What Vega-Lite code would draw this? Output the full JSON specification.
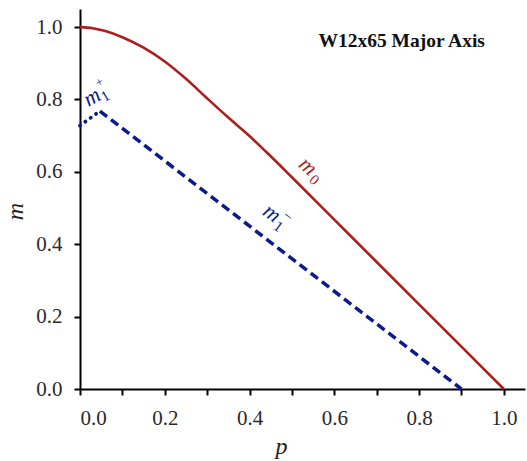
{
  "$schema": "https://vega.github.io/schema/vega-lite/v6.json",
  "width": 445,
  "height": 380,
  "autosize": {"type": "none"},
  "padding": {"left": 80, "top": 9, "right": 2, "bottom": 72},
  "background": "white",
  "config": {
    "view": {"stroke": null},
    "axis": {
      "grid": false,
      "domainColor": "black",
      "domainWidth": 2,
      "tickColor": "black",
      "tickWidth": 2,
      "tickSize": 6,
      "labelFont": "Liberation Serif",
      "labelFontSize": 21,
      "labelColor": "#2a2a2a",
      "titleFont": "Liberation Serif",
      "titleFontStyle": "italic",
      "titleFontWeight": "normal",
      "titleFontSize": 24,
      "titleColor": "#222222"
    }
  },
  "datasets": {
    "m0": [
      {"p": 0.0, "m": 1.0},
      {"p": 0.03, "m": 0.997},
      {"p": 0.06, "m": 0.989},
      {"p": 0.1, "m": 0.972},
      {"p": 0.15, "m": 0.943},
      {"p": 0.2, "m": 0.905},
      {"p": 0.25, "m": 0.857},
      {"p": 0.3, "m": 0.803},
      {"p": 0.35, "m": 0.75},
      {"p": 0.4, "m": 0.699},
      {"p": 0.45, "m": 0.643},
      {"p": 0.5, "m": 0.585},
      {"p": 0.6, "m": 0.468},
      {"p": 0.7, "m": 0.351},
      {"p": 0.8, "m": 0.234},
      {"p": 0.9, "m": 0.117},
      {"p": 1.0, "m": 0.0}
    ],
    "m1minus": [
      {"p": 0.047, "m": 0.768},
      {"p": 0.9, "m": 0.0}
    ],
    "m1plus": [
      {"p": 0.0, "m": 0.728},
      {"p": 0.047, "m": 0.768}
    ]
  },
  "layer": [
    {
      "data": {"name": "m0"},
      "mark": {"type": "line", "color": "#AE1E1E", "strokeWidth": 2.6, "interpolate": "monotone"},
      "encoding": {
        "x": {
          "field": "p", "type": "quantitative",
          "scale": {"domain": [0, 1.05], "nice": false, "zero": false},
          "axis": {
            "title": "p",
            "values": [0, 0.1, 0.2, 0.3, 0.4, 0.5, 0.6, 0.7, 0.8, 0.9, 1.0],
            "labelExpr": "round(datum.value*10)%2==0 ? format(datum.value,'.1f') : ''",
            "labelPadding": 12,
            "titleX": 201,
            "titleY": 64,
            "titleAlign": "center",
            "titleBaseline": "alphabetic"
          }
        },
        "y": {
          "field": "m", "type": "quantitative",
          "scale": {"domain": [0, 1.05], "nice": false, "zero": false},
          "axis": {
            "title": "m",
            "values": [0, 0.1, 0.2, 0.3, 0.4, 0.5, 0.6, 0.7, 0.8, 0.9, 1.0],
            "labelExpr": "round(datum.value*10)%2==0 ? format(datum.value,'.1f') : ''",
            "labelPadding": 12,
            "titleAngle": 270,
            "titleX": -58,
            "titleY": 202,
            "titleAlign": "center",
            "titleBaseline": "alphabetic"
          }
        },
        "order": {"field": "p", "type": "quantitative"}
      }
    },
    {
      "data": {"name": "m1minus"},
      "mark": {"type": "line", "color": "#0B1A8C", "strokeWidth": 3.5, "strokeDash": [9, 5]},
      "encoding": {
        "x": {"field": "p", "type": "quantitative"},
        "y": {"field": "m", "type": "quantitative"}
      }
    },
    {
      "data": {"name": "m1plus"},
      "mark": {"type": "line", "color": "#0B1A8C", "strokeWidth": 3.8, "strokeDash": [0.1, 6.5], "strokeCap": "round"},
      "encoding": {
        "x": {"field": "p", "type": "quantitative"},
        "y": {"field": "m", "type": "quantitative"}
      }
    },
    {
      "data": {"values": [{"label": "m0", "p": 0.538, "m": 0.616}]},
      "encoding": {
        "x": {"field": "p", "type": "quantitative"},
        "y": {"field": "m", "type": "quantitative"}
      },
      "layer": [
        {
          "mark": {"type": "text", "font": "Liberation Serif", "fontStyle": "italic", "fontSize": 22, "color": "#AE1E1E", "angle": 42, "align": "center", "baseline": "middle"},
          "encoding": {"text": {"value": "m"}}
        },
        {
          "mark": {"type": "text", "font": "Liberation Serif", "fontSize": 15, "color": "#AE1E1E", "angle": 42, "align": "center", "baseline": "middle", "dx": 14, "dy": 6},
          "encoding": {"text": {"value": "0"}}
        }
      ]
    },
    {
      "data": {"values": [{"label": "m1-", "p": 0.453, "m": 0.486}]},
      "encoding": {
        "x": {"field": "p", "type": "quantitative"},
        "y": {"field": "m", "type": "quantitative"}
      },
      "layer": [
        {
          "mark": {"type": "text", "font": "Liberation Serif", "fontStyle": "italic", "fontSize": 22, "color": "#0B1A8C", "angle": 36, "align": "center", "baseline": "middle"},
          "encoding": {"text": {"value": "m"}}
        },
        {
          "mark": {"type": "text", "font": "Liberation Serif", "fontSize": 15, "color": "#0B1A8C", "angle": 36, "align": "center", "baseline": "middle", "dx": 13, "dy": 7},
          "encoding": {"text": {"value": "1"}}
        },
        {
          "mark": {"type": "text", "font": "Liberation Serif", "fontSize": 15, "color": "#0B1A8C", "angle": 36, "align": "center", "baseline": "middle", "dx": 15, "dy": -7},
          "encoding": {"text": {"value": "−"}}
        }
      ]
    },
    {
      "data": {"values": [{"label": "m1+", "p": 0.028, "m": 0.807}]},
      "encoding": {
        "x": {"field": "p", "type": "quantitative"},
        "y": {"field": "m", "type": "quantitative"}
      },
      "layer": [
        {
          "mark": {"type": "text", "font": "Liberation Serif", "fontStyle": "italic", "fontSize": 22, "color": "#0B1A8C", "angle": 330, "align": "center", "baseline": "middle"},
          "encoding": {"text": {"value": "m"}}
        },
        {
          "mark": {"type": "text", "font": "Liberation Serif", "fontSize": 15, "color": "#0B1A8C", "angle": 330, "align": "center", "baseline": "middle", "dx": 12, "dy": 6},
          "encoding": {"text": {"value": "1"}}
        },
        {
          "mark": {"type": "text", "font": "Liberation Serif", "fontSize": 13, "color": "#0B1A8C", "angle": 330, "align": "center", "baseline": "middle", "dx": 14, "dy": -9},
          "encoding": {"text": {"value": "+"}}
        }
      ]
    },
    {
      "data": {"values": [{"label": "W12x65 Major Axis", "p": 0.759, "m": 0.945}]},
      "mark": {"type": "text", "font": "Liberation Serif", "fontWeight": "bold", "fontSize": 19.5, "color": "#111111", "align": "center", "baseline": "alphabetic"},
      "encoding": {
        "x": {"field": "p", "type": "quantitative"},
        "y": {"field": "m", "type": "quantitative"},
        "text": {"field": "label"}
      }
    }
  ]
}
